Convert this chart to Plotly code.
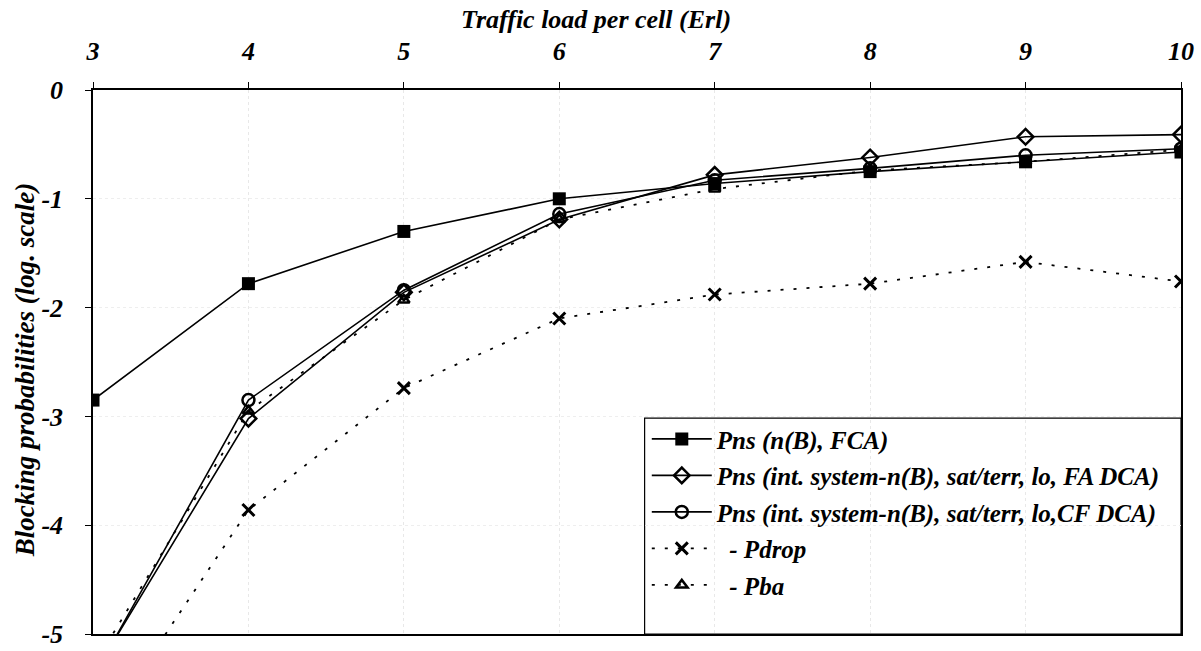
import plotly.graph_objects as go

traffic = [3, 4, 5, 6, 7, 8, 9, 10]
pns_fca = [-2.85, -1.78, -1.30, -1.00, -0.86, -0.75, -0.66, -0.57]
pns_fa_dca = [-5.38, -3.02, -1.86, -1.19, -0.78, -0.62, -0.43, -0.41]
pns_cf_dca = [-5.40, -2.85, -1.84, -1.14, -0.83, -0.72, -0.60, -0.54]
pdrop = [-6.00, -3.86, -2.74, -2.10, -1.88, -1.78, -1.58, -1.76]
pba = [-5.30, -2.95, -1.93, -1.19, -0.91, -0.74, -0.66, -0.55]

x_ticks = [3, 4, 5, 6, 7, 8, 9, 10]
y_ticks = [0, -1, -2, -3, -4, -5]

FONT = "Liberation Serif"
tfont = dict(family=FONT, size=26, color="black", style="italic", weight="bold")

fig = go.Figure()

series = [
    ("Pns (n(B), FCA)", pns_fca, "solid", dict(symbol="square", size=13, color="black")),
    ("Pns (int. system-n(B), sat/terr, lo, FA DCA)", pns_fa_dca, "solid",
     dict(symbol="diamond-open", size=12, color="black", line=dict(width=2.5, color="black"))),
    ("Pns (int. system-n(B), sat/terr, lo,CF DCA)", pns_cf_dca, "solid",
     dict(symbol="circle-open", size=12, color="black", line=dict(width=2.5, color="black"))),
    ("\u00a0\u00a0- Pdrop", pdrop, "3px,10px",
     dict(symbol="x-thin-open", size=12, color="black", line=dict(width=3, color="black"))),
    ("\u00a0\u00a0- Pba", pba, "3px,10px",
     dict(symbol="triangle-up-open", size=10, color="black", line=dict(width=2.5, color="black"))),
]

for i, (name, ys, dash, marker) in enumerate(series):
    fig.add_trace(go.Scatter(
        x=traffic, y=ys, name=name, mode="lines+markers",
        line=dict(color="black", width=1.6 if dash == "solid" else 1.8, dash=dash),
        marker=marker, legendgroup=f"g{i}", cliponaxis=True,
    ))

# legend frame (extends to the bottom-right corner of the plot, as in the original)
fig.add_shape(type="rect", xref="paper", yref="paper",
              x0=0.507, x1=1.0, y0=0.0, y1=0.397,
              line=dict(color="black", width=1.2), fillcolor="white", layer="below")

fig.add_annotation(text="Traffic load per cell (Erl)", xref="paper", yref="paper",
                   x=0.462, y=1.1305, xanchor="center", yanchor="middle", showarrow=False,
                   font=dict(family=FONT, size=26, color="black", style="italic", weight="bold"))
fig.add_annotation(text="Blocking probabilities (log. scale)", xref="paper", yref="paper",
                   x=-0.0625, y=0.485, xanchor="center", yanchor="middle", showarrow=False,
                   textangle=-90,
                   font=dict(family=FONT, size=27, color="black", style="italic", weight="bold"))

fig.update_layout(
    width=1201, height=651,
    margin=dict(l=93, r=20, t=90, b=17),
    paper_bgcolor="white", plot_bgcolor="white",
    showlegend=True,
    legend=dict(
        x=0.509, y=0.4005, xanchor="left", yanchor="top",
        bgcolor="rgba(0,0,0,0)", borderwidth=0,
        font=dict(family=FONT, size=25, color="black", style="italic", weight="bold"),
        tracegroupgap=1, itemwidth=60,
    ),
    xaxis=dict(
        side="top", range=[3, 10], tickvals=x_ticks, automargin=False,
        ticktext=[str(v) for v in x_ticks],
        tickfont=tfont, ticks="outside", ticklen=6, tickcolor="black",
        ticklabelstandoff=12,
        showline=True, linecolor="black", linewidth=1.5, mirror=True,
        showgrid=True, gridcolor="#e8e8e8", griddash="dot", gridwidth=1,
        zeroline=False,
    ),
    yaxis=dict(
        range=[-5, 0], tickvals=y_ticks, ticktext=[str(v) for v in y_ticks], automargin=False,
        tickfont=tfont, ticks="outside", ticklen=6, tickcolor="black",
        ticklabelstandoff=17,
        showline=True, linecolor="black", linewidth=1.5, mirror=True,
        showgrid=True, gridcolor="#eeeeee", griddash="dot", gridwidth=1,
        zeroline=False,
    ),
)

fig.write_html("out.html")
